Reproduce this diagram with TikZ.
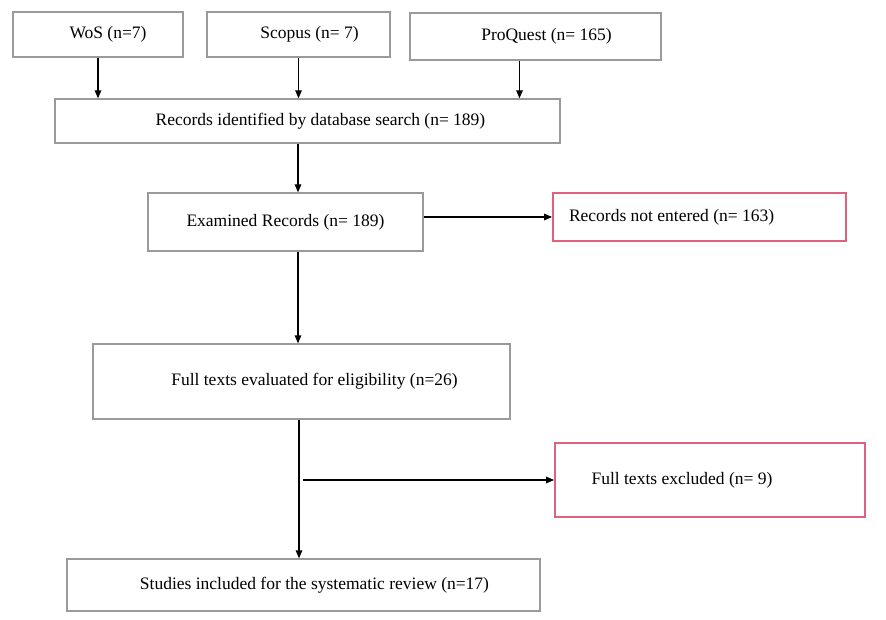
\documentclass[tikz,border=0pt]{standalone}
\usepackage{xcolor}
\usepackage{fontspec}
\setmainfont{Liberation Serif}
\usepackage{tikz}
\usetikzlibrary{arrows.meta,positioning,calc}
\definecolor{boxgray}{HTML}{9A9A9A}
\definecolor{excludered}{HTML}{E0607E}

\begin{document}
\begin{tikzpicture}[
  x=1pt, y=-1pt,
  font=\fontsize{17.5}{20}\selectfont,
  box/.style={draw=boxgray,line width=1.3pt,align=center,inner sep=4pt},
  redbox/.style={box,draw=excludered,line width=1.8pt},
  arr/.style={-{Triangle[length=8pt,width=6.5pt]},line width=1.3pt}
]
\useasboundingbox (0,0) rectangle (886,620);
\coordinate (spine) at (298,0);
\node[box,minimum width=170pt,minimum height=45pt] (wos) at (98,34.5) {\hspace*{20pt}WoS (n=7)};
\node[box,minimum width=183pt,minimum height=45pt] (sco) at (298.5,34.5) {\hspace*{22pt}Scopus (n= 7)};
\node[box,minimum width=251pt,minimum height=47pt] (pq) at (535.5,36.5) {\hspace*{22pt}ProQuest (n= 165)};
\node[box,minimum width=505pt,minimum height=44pt] (rec) at (307.5,121) {\hspace*{26pt}Records identified by database search (n= 189)};
\node[box,minimum width=275pt,minimum height=58pt] (exa) at (285.5,222) {Examined Records (n= 189)};
\node[redbox,minimum height=48pt,inner xsep=16pt,text width=261pt,align=flush left] (nen) at (699.5,217) {Records not entered (n= 163)};
\node[box,minimum width=417pt,minimum height=75pt] (ful) at (301.5,381.5) {\hspace*{26pt}Full texts evaluated for eligibility (n=26)};
\node[redbox,minimum width=310pt,minimum height=74pt] (exc) at (710,480) {Full texts excluded (n= 9)\hspace*{56pt}};
\node[box,minimum width=473pt,minimum height=52pt] (stu) at (303.5,585) {\hspace*{22pt}Studies included for the systematic review (n=17)};
% sources to search
\draw[arr] (wos) -- (wos |- rec.north);
\draw[arr] (sco) -- (sco |- rec.north);
\draw[arr] ([xshift=-16pt]pq.south) -- ([xshift=-16pt]pq.south |- rec.north);
% screening
\draw[arr] (rec.south -| spine) -- (exa.north -| spine);
\draw[arr] (exa.east |- nen.west) -- (nen.west);
\draw[arr] (exa.south -| spine) -- (ful.north -| spine);
\draw[arr] ([xshift=1pt]ful.south -| spine) -- ([xshift=1pt]stu.north -| spine);
\draw[arr] ([xshift=5pt]spine |- exc.west) -- (exc.west);
\end{tikzpicture}
\end{document}
